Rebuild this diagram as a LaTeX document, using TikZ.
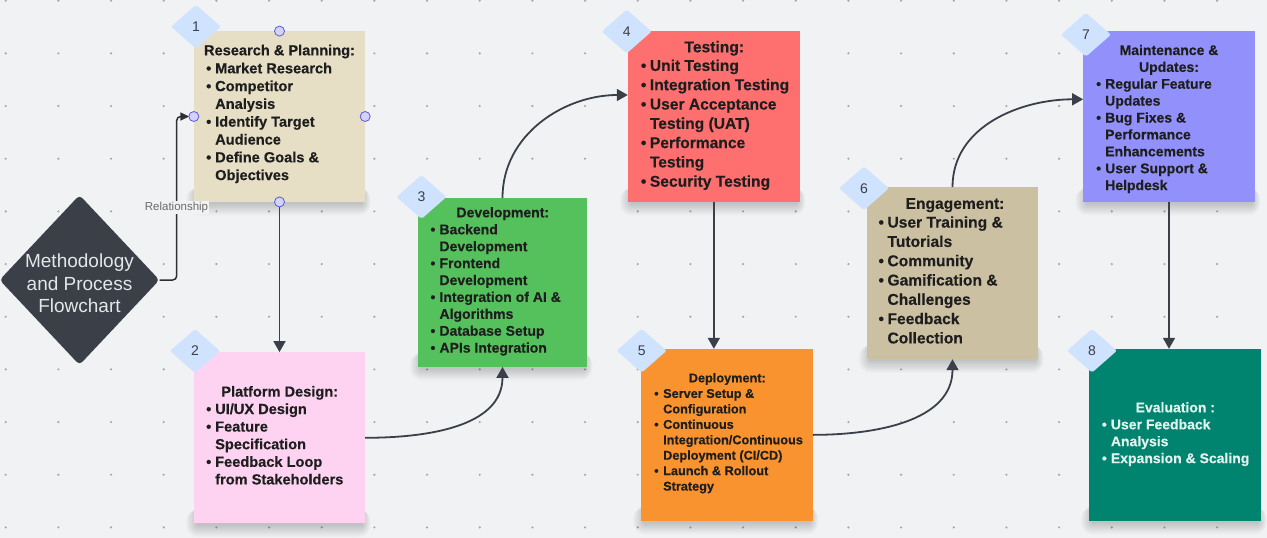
\documentclass[tikz,border=0pt]{standalone}
\usepackage{fontspec}
\setmainfont{Liberation Sans}
\newfontfamily\hb[FakeBold=0.4]{Liberation Sans Bold}
\usetikzlibrary{shapes.geometric,arrows.meta}
\pgfdeclarelayer{bgl}
\pgfdeclarelayer{shd}
\pgfsetlayers{bgl,shd,main}
\definecolor{bgc}{HTML}{F1F2F4}
\definecolor{dotc}{HTML}{A5A7AB}
\definecolor{ink}{HTML}{3A3F48}
\definecolor{relc}{HTML}{2E3035}
\definecolor{txt}{HTML}{1E1E1E}
\definecolor{badge}{HTML}{CFE2FE}
\definecolor{hfill}{HTML}{D2D2FB}
\definecolor{hdraw}{HTML}{5A5AD8}
\definecolor{dk}{HTML}{3A3F48}
\definecolor{dtext}{HTML}{E4E6EA}
\definecolor{labc}{HTML}{6B6B6B}
\definecolor{c1}{HTML}{E6DFC5}
\definecolor{c2}{HTML}{FDD3F1}
\definecolor{c3}{HTML}{54C15D}
\definecolor{c4}{HTML}{FE6F6F}
\definecolor{c5}{HTML}{F89330}
\definecolor{c6}{HTML}{CBC1A2}
\definecolor{c7}{HTML}{9291FB}
\definecolor{c8}{HTML}{00836F}
\definecolor{wtxt}{HTML}{E2F3EE}
\newcommand\bul[1]{\makebox[9pt][l]{\textbullet}#1}
\newcommand\cnt[1]{\hspace*{9pt}#1}
\newcommand\fsA{\fontsize{14.6}{17.8}\selectfont\hb}
\newcommand\fsAb{\fontsize{14.6}{17.6}\selectfont\hb}
\newcommand\fsB{\fontsize{14}{16.9}\selectfont\hb}
\newcommand\fsC{\fontsize{15.6}{19.3}\selectfont\hb}
\newcommand\fsD{\fontsize{12.7}{15.45}\selectfont\hb}
\newcommand\shd[1]{\foreach \k in {1,...,12}{
  \fill[black,opacity=0.016,rounded corners=\k pt]
   ([xshift={4pt-\k*1pt}, yshift=14pt]#1.south west) rectangle ([xshift={\k*0.7pt-3pt}, yshift={-1pt-\k*1.05pt}]#1.south east);}}
\tikzset{
  card/.style={rectangle, inner sep=0pt},
  ttl/.style={anchor=base, inner sep=0pt, text=txt},
  lst/.style={anchor=base west, inner sep=0pt, text=txt},
  num/.style={diamond, fill=badge, minimum width=50pt, minimum height=44pt, inner sep=0pt, rounded corners=2pt, text=ink, font=\fontsize{14}{16}\selectfont},
  hdl/.style={circle, draw=hdraw, fill=hfill, line width=0.8pt, minimum size=10pt, inner sep=0pt},
  conn/.style={draw=ink, line width=1.8pt, -{Triangle[length=11pt,width=12pt]}},
  rel/.style={draw=relc, line width=1.5pt, rounded corners=4pt, -{Triangle[length=9pt,width=8pt]}, shorten >=4.5pt},
}
\begin{document}
\begin{tikzpicture}[x=1pt,y=-1pt]
\useasboundingbox (0,0) rectangle (1267,538);
\begin{pgfonlayer}{bgl}
\fill[bgc] (0,0) rectangle (1267,538);
\foreach \i in {0,...,23}{
  \foreach \j in {0,...,10}{
    \fill[dotc] ({5.7+52.67*\i},{0.7+52.67*\j}) circle (1.2pt);
  }
}
\end{pgfonlayer}
% start diamond
\node[diamond, fill=dk, minimum width=160pt, minimum height=170pt, inner sep=0pt, rounded corners=4pt] (md) at (79.5,280) {};
\node[anchor=base, inner sep=0pt, text=dtext, font=\fontsize{19}{22.7}\selectfont] (mdt) at (79.5,267.5)
  {\begin{tabular}[t]{@{}c@{}}Methodology\\and Process\\Flowchart\end{tabular}};

% cards
\node[card, fill=c1, minimum width=171pt, minimum height=170.4pt] (b1) at (279.5,116.5) {};
\node[card, fill=c2, minimum width=171pt, minimum height=171pt] (b2) at (279.5,437.8) {};
\node[card, fill=c3, minimum width=169pt, minimum height=168.7pt] (b3) at (502.5,282.35) {};
\node[card, fill=c4, minimum width=171.7pt, minimum height=170.4pt] (b4) at (713.85,116.5) {};
\node[card, fill=c5, minimum width=171.7pt, minimum height=171.7pt] (b5) at (726.85,434.85) {};
\node[card, fill=c6, minimum width=171pt, minimum height=171.7pt] (b6) at (952.5,273.15) {};
\node[card, fill=c7, minimum width=171.4pt, minimum height=170.4pt] (b7) at (1169,116.5) {};
\node[card, fill=c8, minimum width=172pt, minimum height=171.7pt] (b8) at (1175,434.85) {};
\begin{pgfonlayer}{shd}
\shd{b1}\shd{b2}\shd{b3}\shd{b4}\shd{b5}\shd{b6}\shd{b7}\shd{b8}
\end{pgfonlayer}

% connectors
\draw[rel] (md.east) -- ++(17,0) |- (b1.west);
\node[fill=bgc, inner sep=1pt, text=labc, font=\fontsize{11.5}{13}\selectfont] (lab) at (176.5,207.7) {Relationship};
\draw[conn] (b1.south) -- (b2.north);
\draw[conn] (b2.east) to[out=0,in=-90] (b3.south);
\draw[conn] (b3.north) to[out=90,in=180] ([yshift=21.5pt]b4.west);
\draw[conn] (b4.south) -- (b4.south |- b5.north);
\draw[conn] (b5.east) to[out=0,in=-90] (b6.south);
\draw[conn] (b6.north) to[out=90,in=180] ([yshift=17.2pt]b7.west);
\draw[conn] (b7.south) -- (b7.south |- b8.north);

% texts
\node[ttl, font=\fsA] (t1) at (279.5,55.3) {Research \& Planning:};
\node[lst, font=\fsA] (l1) at (206,73.3) {\begin{tabular}[t]{@{}l@{}}
\bul{Market Research}\\ \bul{Competitor}\\ \cnt{Analysis}\\ \bul{Identify Target}\\ \cnt{Audience}\\ \bul{Define Goals \&}\\ \cnt{Objectives}\end{tabular}};

\node[ttl, font=\fsAb] (t2) at (279.7,396.6) {Platform Design:};
\node[lst, font=\fsAb] (l2) at (206,414) {\begin{tabular}[t]{@{}l@{}}
\bul{UI/UX Design}\\ \bul{Feature}\\ \cnt{Specification}\\ \bul{Feedback Loop}\\ \cnt{from Stakeholders}\end{tabular}};

\node[ttl, font=\fsB] (t3) at (502.8,217.3) {Development:};
\node[lst, font=\fsB] (l3) at (430.3,234.3) {\begin{tabular}[t]{@{}l@{}}
\bul{Backend}\\ \cnt{Development}\\ \bul{Frontend}\\ \cnt{Development}\\ \bul{Integration of AI \&}\\ \cnt{Algorithms}\\ \bul{Database Setup}\\ \bul{APIs Integration}\end{tabular}};

\node[ttl, font=\fsC] (t4) at (714.3,52.3) {Testing:};
\node[lst, font=\fsC] (l4) at (640.7,70.9) {\begin{tabular}[t]{@{}l@{}}
\bul{Unit Testing}\\ \bul{Integration Testing}\\ \bul{User Acceptance}\\ \cnt{Testing (UAT)}\\ \bul{Performance}\\ \cnt{Testing}\\ \bul{Security Testing}\end{tabular}};

\node[ttl, font=\fsD] (t5) at (727.3,382.3) {Deployment:};
\node[lst, font=\fsD] (l5) at (654,397.9) {\begin{tabular}[t]{@{}l@{}}
\bul{Server Setup \&}\\ \cnt{Configuration}\\ \bul{Continuous}\\ \cnt{Integration/Continuous}\\ \cnt{Deployment (CI/CD)}\\ \bul{Launch \& Rollout}\\ \cnt{Strategy}\end{tabular}};

\node[ttl, font=\fsC] (t6) at (955,208.9) {Engagement:};
\node[lst, font=\fsC] (l6) at (878.3,227.6) {\begin{tabular}[t]{@{}l@{}}
\bul{User Training \&}\\ \cnt{Tutorials}\\ \bul{Community}\\ \bul{Gamification \&}\\ \cnt{Challenges}\\ \bul{Feedback}\\ \cnt{Collection}\end{tabular}};

\node[ttl, font=\fsB] (t7) at (1169,55) {\begin{tabular}[t]{@{}c@{}}Maintenance \&\\Updates:\end{tabular}};
\node[lst, font=\fsB] (l7) at (1096,88.7) {\begin{tabular}[t]{@{}l@{}}
\bul{Regular Feature}\\ \cnt{Updates}\\ \bul{Bug Fixes \&}\\ \cnt{Performance}\\ \cnt{Enhancements}\\ \bul{User Support \&}\\ \cnt{Helpdesk}\end{tabular}};

\node[ttl, font=\fsB, text=wtxt] (t8) at (1175.3,412.3) {Evaluation :};
\node[lst, font=\fsB, text=wtxt] (l8) at (1101.7,429.3) {\begin{tabular}[t]{@{}l@{}}
\bul{User Feedback}\\ \cnt{Analysis}\\ \bul{Expansion \& Scaling}\end{tabular}};

% badges
\node[num] (n1) at (196,26.7) {1};
\node[num] (n2) at (195,351) {2};
\node[num] (n3) at (421.5,197) {3};
\node[num] (n4) at (626.7,31.5) {4};
\node[num] (n5) at (641.7,350.7) {5};
\node[num] (n6) at (864,188.3) {6};
\node[num] (n7) at (1086,34.7) {7};
\node[num] (n8) at (1092,350.7) {8};

% selection handles
\node[hdl] (h1) at (b1.north) {};
\node[hdl] (h2) at (b1.west) {};
\node[hdl] (h3) at (b1.east) {};
\node[hdl] (h4) at (b1.south) {};
\end{tikzpicture}
\end{document}
